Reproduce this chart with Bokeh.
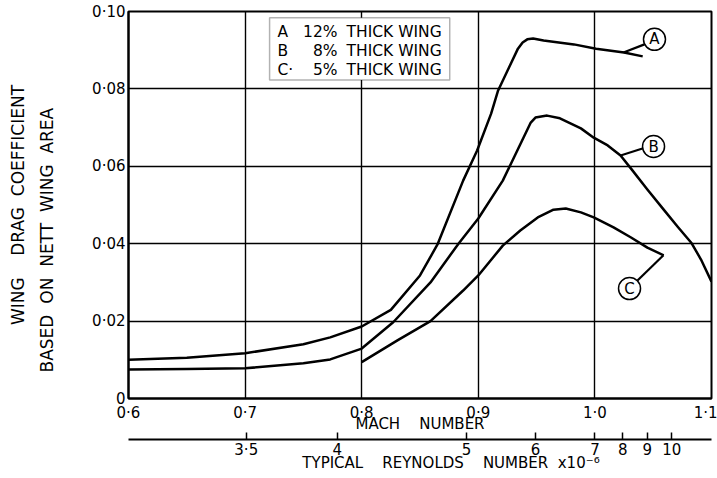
import math
from bokeh.plotting import figure
from bokeh.models import Range1d, LinearAxis, FixedTicker, BoxAnnotation, Label
from bokeh.core.properties import value
from bokeh.embed import file_html
from bokeh.resources import INLINE

# ---- data ----
mach_a = [0.60, 0.65, 0.70, 0.75, 0.773, 0.80, 0.825, 0.850, 0.865, 0.887, 0.899, 0.911, 0.917,
          0.934, 0.938, 0.942, 0.947, 0.956, 0.982, 1.001, 1.025, 1.041]
cd_a = [0.0100, 0.0105, 0.0117, 0.0140, 0.0158, 0.0186, 0.0229, 0.0318, 0.0398, 0.0563, 0.0641, 0.0736, 0.0796,
        0.0904, 0.0920, 0.0928, 0.0930, 0.0925, 0.0915, 0.0904, 0.0894, 0.0884]

mach_b = [0.60, 0.65, 0.70, 0.75, 0.773, 0.80, 0.827, 0.859, 0.883, 0.900, 0.921, 0.945, 0.949,
          0.959, 0.970, 0.988, 0.999, 1.011, 1.022, 1.031, 1.045, 1.059, 1.071, 1.083, 1.091, 1.100]
cd_b = [0.0075, 0.0076, 0.0078, 0.0091, 0.0101, 0.0129, 0.0197, 0.0300, 0.0400, 0.0465, 0.0563, 0.0713, 0.0726,
        0.0731, 0.0724, 0.0698, 0.0674, 0.0654, 0.0628, 0.0594, 0.0540, 0.0488, 0.0444, 0.0401, 0.0359, 0.0302]

mach_c = [0.800, 0.831, 0.859, 0.887, 0.900, 0.921, 0.936, 0.951, 0.9645, 0.975, 0.988, 0.999,
          1.016, 1.031, 1.045, 1.059]
cd_c = [0.0094, 0.0151, 0.0200, 0.0279, 0.0318, 0.0395, 0.0434, 0.0468, 0.0488, 0.0491, 0.0481, 0.0468,
        0.0442, 0.0416, 0.0390, 0.0370]

x_ticks = [0.6, 0.7, 0.8, 0.9, 1.0, 1.1]
x_tick_labels = ["0·6", "0·7", "0·8", "0·9", "1·0", "1·1"]
y_ticks = [0.0, 0.02, 0.04, 0.06, 0.08, 0.10]
y_tick_labels = ["0", "0·02", "0·04", "0·06", "0·08", "0·10"]
re_tick_labels = ["3·5", "4", "5", "6", "7", "8", "9", "10"]
re_tick_mach = [0.701, 0.779, 0.890, 0.949, 1.000, 1.024, 1.045, 1.066]

legend_letters = ["A", "B", "C·"]
legend_thickness = ["12%", "8%", "5%"]
legend_text = ["THICK WING", "THICK WING", "THICK WING"]
curve_tags = ["A", "B", "C"]

FONT = "DejaVu Sans"
NB = "\u00a0"

p = figure(width=717, height=478, output_backend="svg", toolbar_location=None,
           x_range=Range1d(0.6, 1.1), y_range=Range1d(0.0, 0.1),
           min_border_left=128, min_border_right=6, min_border_top=11, min_border_bottom=80)
p.background_fill_color = "white"
p.border_fill_color = "white"
p.outline_line_color = "black"
p.outline_line_width = 2

for g, t in ((p.xgrid[0], x_ticks), (p.ygrid[0], y_ticks)):
    g.ticker = FixedTicker(ticks=t)
    g.grid_line_color = "black"
    g.grid_line_width = 1.4
    g.grid_line_alpha = 1.0

def style_axis(ax):
    ax.axis_line_color = "black"
    ax.axis_line_width = 2
    ax.major_tick_line_color = "black"
    ax.major_tick_line_width = 1.5
    ax.minor_tick_in = 0
    ax.minor_tick_out = 0
    ax.major_label_text_font = FONT
    ax.major_label_text_font_size = "15px"
    ax.major_label_text_color = "black"
    ax.axis_label_text_font = FONT
    ax.axis_label_text_font_size = "15px"
    ax.axis_label_text_font_style = "normal"
    ax.axis_label_text_color = "black"

xa = p.xaxis[0]
style_axis(xa)
xa.ticker = FixedTicker(ticks=x_ticks)
xa.major_label_overrides = dict(zip(x_ticks, x_tick_labels))
xa.major_tick_in = 0
xa.major_tick_out = 0
xa.major_label_standoff = 5
xa.axis_label = "MACH" + NB * 4 + "NUMBER"
xa.axis_label_standoff = -10

# thin blank spacer between the two scales
sp = LinearAxis(ticker=FixedTicker(ticks=[]), axis_line_color=None,
                major_tick_in=0, major_tick_out=0, minor_tick_in=0, minor_tick_out=0,
                axis_label=NB, axis_label_text_font_size="4px", axis_label_standoff=-4)
p.add_layout(sp, "below")

ra = LinearAxis(ticker=FixedTicker(ticks=re_tick_mach),
                major_label_overrides=dict(zip(re_tick_mach, re_tick_labels)))
style_axis(ra)
ra.major_tick_in = 7
ra.major_tick_out = 0
ra.major_label_standoff = 1
ra.axis_label = NB * 13 + "TYPICAL" + NB * 4 + "REYNOLDS" + NB * 4 + "NUMBER" + NB * 2 + "x10⁻⁶"
ra.axis_label_standoff = -8
p.add_layout(ra, "below")

ya = p.yaxis[0]
style_axis(ya)
ya.ticker = FixedTicker(ticks=y_ticks)
ya.major_label_overrides = dict(zip(y_ticks, y_tick_labels))
ya.major_tick_in = 0
ya.major_tick_out = 0
ya.major_label_standoff = 3
ya.axis_label = ("WING" + NB * 4 + "DRAG" + NB * 2 + "COEFFICIENT" + "\n" +
                 "BASED" + NB * 2 + "ON" + NB * 2 + "NETT" + NB * 2 + "WING" + NB * 2 + "AREA" + NB * 13)
ya.axis_label_text_font_size = "17px"
ya.axis_label_text_line_height = 1.45
ya.axis_label_standoff = 32

# curves
for xs, ys in ((mach_a, cd_a), (mach_b, cd_b), (mach_c, cd_c)):
    p.line(xs, ys, line_color="black", line_width=2.5, line_join="round")

# leaders and circled tags
leader_x0 = [1.0245, 1.022, 1.0588]
leader_y0 = [0.0894, 0.0628, 0.0370]
leader_x1 = [1.0425, 1.0408, 1.0365]
leader_y1 = [0.0915, 0.0646, 0.0305]
tag_x = [1.0511, 1.0503, 1.0297]
tag_y = [0.0928, 0.0651, 0.0284]
p.segment(leader_x0, leader_y0, leader_x1, leader_y1, line_color="black", line_width=2.2)
p.scatter(tag_x, tag_y, marker="circle", size=22, fill_color="white",
          line_color="black", line_width=1.5)
p.text(tag_x, tag_y, text=curve_tags, text_align="center", text_baseline="middle",
       text_font=value(FONT), text_font_size="15px", text_color="black")

# legend box
p.add_layout(BoxAnnotation(left=0.721, right=0.8755, top=0.0984, bottom=0.0823,
                           fill_color="white", fill_alpha=1.0,
                           line_color="black", line_width=1.5))
row_y = [0.0946, 0.0897, 0.0848]
for i in range(3):
    p.add_layout(Label(x=0.7278, y=row_y[i], text=legend_letters[i], text_align="left",
                       text_baseline="middle", text_font=FONT, text_font_size="15.5px",
                       text_color="black"))
    p.add_layout(Label(x=0.7793, y=row_y[i], text=legend_thickness[i], text_align="right",
                       text_baseline="middle", text_font=FONT, text_font_size="15.5px",
                       text_color="black"))
    p.add_layout(Label(x=0.787, y=row_y[i], text=legend_text[i], text_align="left",
                       text_baseline="middle", text_font=FONT, text_font_size="15.5px",
                       text_color="black"))

open("out.html", "w").write(file_html(p, INLINE))
